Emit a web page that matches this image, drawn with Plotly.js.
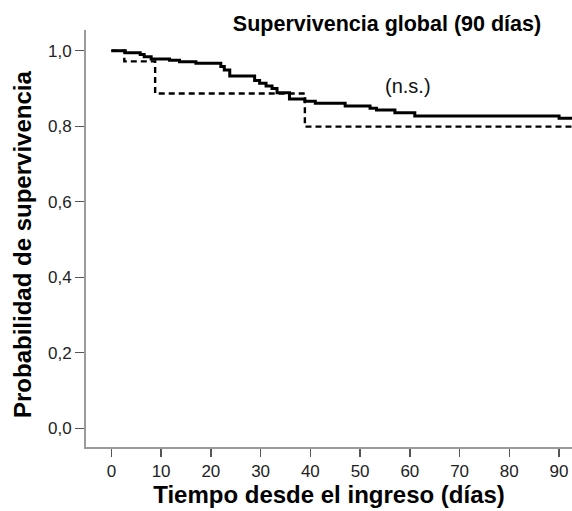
<!DOCTYPE html>
<html>
<head>
<meta charset="utf-8">
<script src="https://cdn.plot.ly/plotly-3.0.1.min.js"></script>
<style>html,body{margin:0;padding:0;background:#fff;}#chart{width:572px;height:511px;}</style>
</head>
<body>
<div id="chart"></div>
<script>
// Kaplan-Meier step data (days, survival probability)
var solidTime = [0, 2.8, 5.8, 6.6, 8, 11.7, 13.7, 17, 22, 22.7, 23.8, 28.8, 29.8, 31.1, 32.3, 33.3, 35.8, 38.9, 41, 47, 52, 53.3, 57, 61, 90, 93];
var solidSurv = [1.0, 0.995, 0.99, 0.984, 0.978, 0.975, 0.971, 0.967, 0.958, 0.949, 0.933, 0.921, 0.914, 0.907, 0.900, 0.889, 0.872, 0.866, 0.861, 0.854, 0.848, 0.843, 0.836, 0.827, 0.821, 0.821];
var dashTime = [0, 2.6, 8.8, 38.9, 93];
var dashSurv = [1.0, 0.972, 0.887, 0.799, 0.799];
var xTicks = [0, 10, 20, 30, 40, 50, 60, 70, 80, 90];
var yTicks = [0, 0.2, 0.4, 0.6, 0.8, 1.0];
var yTickText = ["0,0", "0,2", "0,4", "0,6", "0,8", "1,0"];

var traces = [
  {x: solidTime, y: solidSurv, type: 'scatter', mode: 'lines', line: {shape: 'hv', color: '#000', width: 3}, hoverinfo: 'skip'},
  {x: dashTime, y: dashSurv, type: 'scatter', mode: 'lines', line: {shape: 'hv', color: '#000', width: 2.4, dash: '6px,4px'}, hoverinfo: 'skip'}
];

var fontFam = 'Liberation Sans, Arial, sans-serif';
var layout = {
  width: 572, height: 511,
  margin: {l: 86, r: 0, t: 30, b: 64},
  paper_bgcolor: '#fff', plot_bgcolor: '#fff',
  showlegend: false,
  font: {family: fontFam, color: '#222', size: 17},
  title: {text: '<b>Supervivencia global (90 días)</b>', font: {family: fontFam, size: 21.5, color: '#000'}, x: 387 / 572, xref: 'container', xanchor: 'center', yref: 'container', y: 1 - 23 / 511, yanchor: 'middle'},
  xaxis: {
    range: [-5.1, 92.6], tickvals: xTicks, ticktext: xTicks.map(String),
    showgrid: false, zeroline: false, showline: true, linecolor: '#9a9a9a', linewidth: 2,
    ticks: 'outside', ticklen: 8, tickwidth: 1.6, tickcolor: '#555',
    tickfont: {family: fontFam, size: 17, color: '#222'},
    title: {text: '<b>Tiempo desde el ingreso (días)</b>', font: {family: fontFam, size: 24, color: '#000'}, standoff: 6}
  },
  yaxis: {
    range: [-0.0495, 1.055], tickvals: yTicks, ticktext: yTickText,
    showgrid: false, zeroline: false, showline: true, linecolor: '#9a9a9a', linewidth: 2,
    ticks: 'outside', ticklen: 9, tickwidth: 1.4, tickcolor: '#555',
    tickfont: {family: fontFam, size: 17, color: '#222'}
  },
  annotations: [
    {text: '(n.s.)', x: 59.7, y: 0.908, xref: 'x', yref: 'y', showarrow: false, font: {family: fontFam, size: 20, color: '#111'}},
    {text: '<b>Probabilidad de supervivencia</b>', textangle: -90, xref: 'paper', yref: 'paper', x: -64 / 486, y: (447 - 245) / 417, xanchor: 'center', yanchor: 'middle', showarrow: false, font: {family: fontFam, size: 24, color: '#000'}}
  ]
};
Plotly.newPlot('chart', traces, layout, {staticPlot: true, displayModeBar: false});
</script>
</body>
</html>
